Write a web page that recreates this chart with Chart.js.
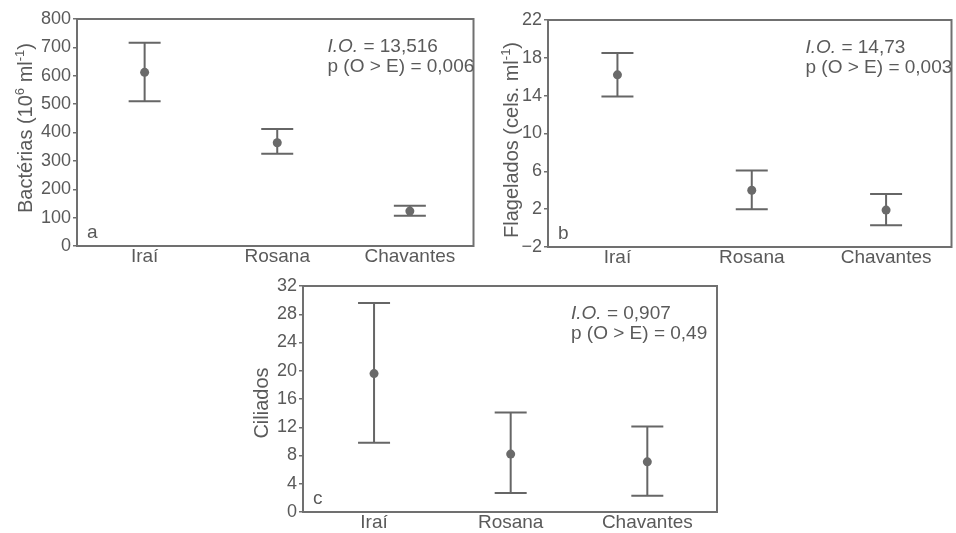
<!DOCTYPE html>
<html>
<head>
<meta charset="utf-8">
<script src="https://cdn.jsdelivr.net/npm/chart.js@4.4.1/dist/chart.umd.min.js"></script>
<style>
  html, body { margin: 0; padding: 0; background: #fff; }
  body { width: 956px; height: 533px; position: relative; overflow: hidden; }
  .panel { position: absolute; }
</style>
</head>
<body>
<div class="panel" style="left:0px;top:0px;"><canvas id="chartA" width="478" height="270"></canvas></div>
<div class="panel" style="left:478px;top:0px;"><canvas id="chartB" width="478" height="270"></canvas></div>
<div class="panel" style="left:230px;top:262px;"><canvas id="chartC" width="500" height="271"></canvas></div>
<script>
// categorias (reservatorios)
var categories = ['Iraí', 'Rosana', 'Chavantes'];

// a - bacterias (media e intervalo)
var bactMean = [612, 364, 123];
var bactLow = [510, 325, 107];
var bactHigh = [716, 412, 142];
var bactTicks = [0, 100, 200, 300, 400, 500, 600, 700, 800];

// b - flagelados
var flagMean = [16.2, 4.0, 1.9];
var flagLow = [13.9, 2.0, 0.3];
var flagHigh = [18.5, 6.1, 3.6];
var flagTicks = [-2, 2, 6, 10, 14, 18, 22];

// c - ciliados
var cilMean = [19.6, 8.2, 7.1];
var cilLow = [9.8, 2.7, 2.3];
var cilHigh = [29.6, 14.1, 12.1];
var cilTicks = [0, 4, 8, 12, 16, 20, 24, 28, 32];

// estatisticas
var ioValues = ['13,516', '14,73', '0,907'];
var pValues = ['0,006', '0,003', '0,49'];
var panelLetters = ['a', 'b', 'c'];

var FONT = '"Liberation Sans", Arial, Helvetica, sans-serif';
var TEXT = '#5a5a5a';
var LINE = '#666666';

// plugin que desenha barras de erro, moldura e textos de cada painel
function makeDecor(p) {
  return {
    id: 'decor' + p.idx,
    beforeDatasetsDraw: function (chart) {
      var ctx = chart.ctx, xs = chart.scales.x, ys = chart.scales.y;
      ctx.save();
      ctx.strokeStyle = LINE;
      ctx.lineWidth = 2;
      for (var i = 0; i < categories.length; i++) {
        var x = xs.getPixelForValue(i);
        var yl = ys.getPixelForValue(p.low[i]);
        var yh = ys.getPixelForValue(p.high[i]);
        ctx.beginPath();
        ctx.moveTo(x, yl); ctx.lineTo(x, yh);
        ctx.moveTo(x - 16, yl); ctx.lineTo(x + 16, yl);
        ctx.moveTo(x - 16, yh); ctx.lineTo(x + 16, yh);
        ctx.stroke();
      }
      ctx.restore();
    },
    afterDraw: function (chart) {
      var ctx = chart.ctx, a = chart.chartArea;
      ctx.save();
      // moldura
      ctx.strokeStyle = '#707070';
      ctx.lineWidth = 2;
      ctx.strokeRect(a.left, a.top, a.right - a.left, a.bottom - a.top);

      ctx.fillStyle = TEXT;
      ctx.textBaseline = 'alphabetic';
      ctx.textAlign = 'left';
      // I.O. e p
      var tx = a.right - 146;
      ctx.font = 'italic 19px ' + FONT;
      ctx.fillText('I.O.', tx, a.top + 33);
      var w = ctx.measureText('I.O.').width;
      ctx.font = '19px ' + FONT;
      ctx.fillText(' = ' + ioValues[p.idx], tx + w, a.top + 33);
      ctx.fillText('p (O > E) = ' + pValues[p.idx], tx, a.top + 53);
      // letra do painel
      ctx.fillText(panelLetters[p.idx], a.left + 10, a.bottom - 8);

      // titulo do eixo y (com sobrescritos)
      ctx.translate(p.titleX, p.titleY);
      ctx.rotate(-Math.PI / 2);
      var total = 0, i, s;
      for (i = 0; i < p.title.length; i++) {
        s = p.title[i];
        ctx.font = (s.sup ? '13px ' : '20px ') + FONT;
        total += ctx.measureText(s.t).width;
      }
      var cx = -total / 2;
      for (i = 0; i < p.title.length; i++) {
        s = p.title[i];
        ctx.font = (s.sup ? '13px ' : '20px ') + FONT;
        ctx.fillText(s.t, cx, s.sup ? -8 : 0);
        cx += ctx.measureText(s.t).width;
      }
      ctx.restore();
    }
  };
}

function makePanel(p) {
  var ctx = document.getElementById(p.id).getContext('2d');
  return new Chart(ctx, {
    type: 'scatter',
    data: {
      datasets: [{
        data: p.mean.map(function (v, i) { return { x: i, y: v }; }),
        pointRadius: 4.5,
        pointBackgroundColor: '#6a6a6a',
        pointBorderWidth: 0
      }]
    },
    options: {
      responsive: false,
      animation: false,
      layout: { padding: p.padding },
      plugins: { legend: { display: false }, tooltip: { enabled: false } },
      scales: {
        x: {
          type: 'linear',
          min: p.xMin,
          max: p.xMax,
          grid: { display: false, drawTicks: false, tickLength: 0 },
          border: { display: false },
          afterBuildTicks: function (scale) {
            scale.ticks = categories.map(function (c, i) { return { value: i }; });
          },
          afterFit: function (scale) { scale.height = p.xHeight; },
          ticks: {
            color: TEXT,
            padding: 1,
            font: { family: FONT, size: 19, lineHeight: 1 },
            callback: function (v) { return categories[v]; }
          }
        },
        y: {
          min: p.ticks[0],
          max: p.ticks[p.ticks.length - 1],
          grid: { drawOnChartArea: false, drawTicks: true, tickLength: 4, color: '#707070', lineWidth: 1.5 },
          border: { display: false },
          afterBuildTicks: function (scale) {
            scale.ticks = p.ticks.map(function (v) { return { value: v }; });
          },
          afterFit: function (scale) { scale.width = p.yWidth; },
          ticks: {
            color: TEXT,
            padding: 2,
            font: { family: FONT, size: 18 },
            callback: function (v) { return v < 0 ? '\u2212' + Math.abs(v) : String(v); }
          }
        }
      }
    },
    plugins: [makeDecor(p)]
  });
}

makePanel({
  idx: 0, id: 'chartA', mean: bactMean, low: bactLow, high: bactHigh, ticks: bactTicks,
  padding: { left: 0, top: 19, right: 2, bottom: 0 }, yWidth: 77, xHeight: 24,
  xMin: -0.51, xMax: 2.48, titleX: 32, titleY: 128,
  title: [{ t: 'Bactérias (10' }, { t: '6', sup: true }, { t: ' ml' }, { t: '-1', sup: true }, { t: ')' }]
});

makePanel({
  idx: 1, id: 'chartB', mean: flagMean, low: flagLow, high: flagHigh, ticks: flagTicks,
  padding: { left: 0, top: 20, right: 1, bottom: 0 }, yWidth: 70, xHeight: 23,
  xMin: -0.517, xMax: 2.487, titleX: 40, titleY: 140,
  title: [{ t: 'Flagelados (cels. ml' }, { t: '-1', sup: true }, { t: ')' }]
});

makePanel({
  idx: 2, id: 'chartC', mean: cilMean, low: cilLow, high: cilHigh, ticks: cilTicks,
  padding: { left: 0, top: 24, right: 13, bottom: 0 }, yWidth: 73, xHeight: 21,
  xMin: -0.52, xMax: 2.51, titleX: 38, titleY: 141,
  title: [{ t: 'Ciliados' }]
});
</script>
</body>
</html>
